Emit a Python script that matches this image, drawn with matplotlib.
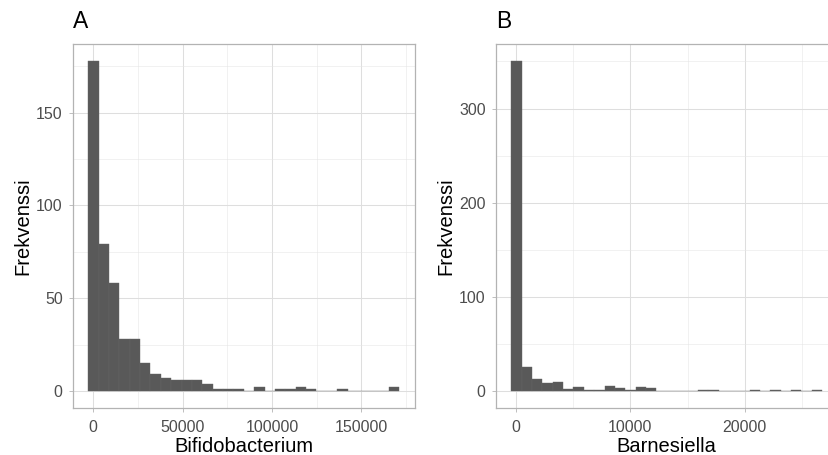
import numpy as np
import matplotlib
matplotlib.use("Agg")
import matplotlib.pyplot as plt
from matplotlib.ticker import MultipleLocator, FuncFormatter

plt.rcParams['font.family'] = ['Liberation Sans', 'DejaVu Sans']

# ---- data ----
a_counts = [178, 79, 58, 28, 28, 15, 9, 7, 6, 6, 6, 4, 1, 1, 1,
            0, 2, 0, 1, 1, 2, 1, 0, 0, 1, 0, 0, 0, 0, 2]
a_bin_range = [-2824, 171294]
a_xlabel = "Bifidobacterium"
a_title = "A"

b_counts = [351, 25, 13, 8, 10, 2, 4, 1, 1, 5, 3, 1, 4, 3, 0,
            0, 0, 0, 1, 1, 0, 0, 0, 1, 0, 1, 0, 1, 0, 1]
b_bin_range = [-376, 26743]
b_xlabel = "Barnesiella"
b_title = "B"

ylabel = "Frekvenssi"

FILL = "#595959"
GRID = "#dedede"
BORDER = "#b3b3b3"
TICKLAB = "#4d4d4d"

W, H = 829, 455
fig = plt.figure(figsize=(W / 100, H / 100), dpi=100)

def panel(rect, counts, rng, xlabel, title, xmaj, ymaj):
    ax = fig.add_axes(rect)
    counts = np.asarray(counts, dtype=float)
    edges = np.linspace(rng[0], rng[1], len(counts) + 1)
    ax.bar(edges[:-1], counts, width=np.diff(edges), align='edge',
           color=FILL, linewidth=0.3, edgecolor="#666666", zorder=3)
    span = rng[1] - rng[0]
    ax.set_xlim(rng[0] - 0.05 * span, rng[1] + 0.05 * span)
    ymax = counts.max()
    ax.set_ylim(-0.05 * ymax, ymax * 1.05)
    ax.xaxis.set_major_locator(MultipleLocator(xmaj))
    ax.xaxis.set_minor_locator(MultipleLocator(xmaj / 2))
    ax.yaxis.set_major_locator(MultipleLocator(ymaj))
    ax.yaxis.set_minor_locator(MultipleLocator(ymaj / 2))
    ax.grid(which='major', color=GRID, linewidth=0.75, zorder=0)
    ax.grid(which='minor', color="#e6e6e6", linewidth=0.4, zorder=0)
    ax.set_axisbelow(True)
    for s in ax.spines.values():
        s.set_color(BORDER)
        s.set_linewidth(0.9)
    ax.tick_params(which='major', length=3.2, width=0.6, color=BORDER,
                   labelcolor=TICKLAB, labelsize=11.5)
    ax.tick_params(axis='x', which='major', pad=5.5)
    ax.tick_params(axis='y', which='major', pad=4)
    ax.tick_params(which='minor', length=0)
    ax.xaxis.set_major_formatter(FuncFormatter(lambda v, p: f"{v:.0f}"))
    ax.yaxis.set_major_formatter(FuncFormatter(lambda v, p: f"{v:.0f}"))
    ax.set_xlabel(xlabel, fontsize=14.5, labelpad=2)
    ax.set_ylabel(ylabel, fontsize=14.5, labelpad=3)
    ax.set_title(title, loc='left', fontsize=16.5, pad=11.5)
    return ax

axh = 363.5 / H
axb = (H - 407.5) / H
panel([72.7 / W, axb, 342.3 / W, axh], a_counts, a_bin_range, a_xlabel, a_title, 50000, 50)
panel([495.7 / W, axb, 342.0 / W, axh], b_counts, b_bin_range, b_xlabel, b_title, 10000, 100)

fig.savefig("out.png", dpi=100)
